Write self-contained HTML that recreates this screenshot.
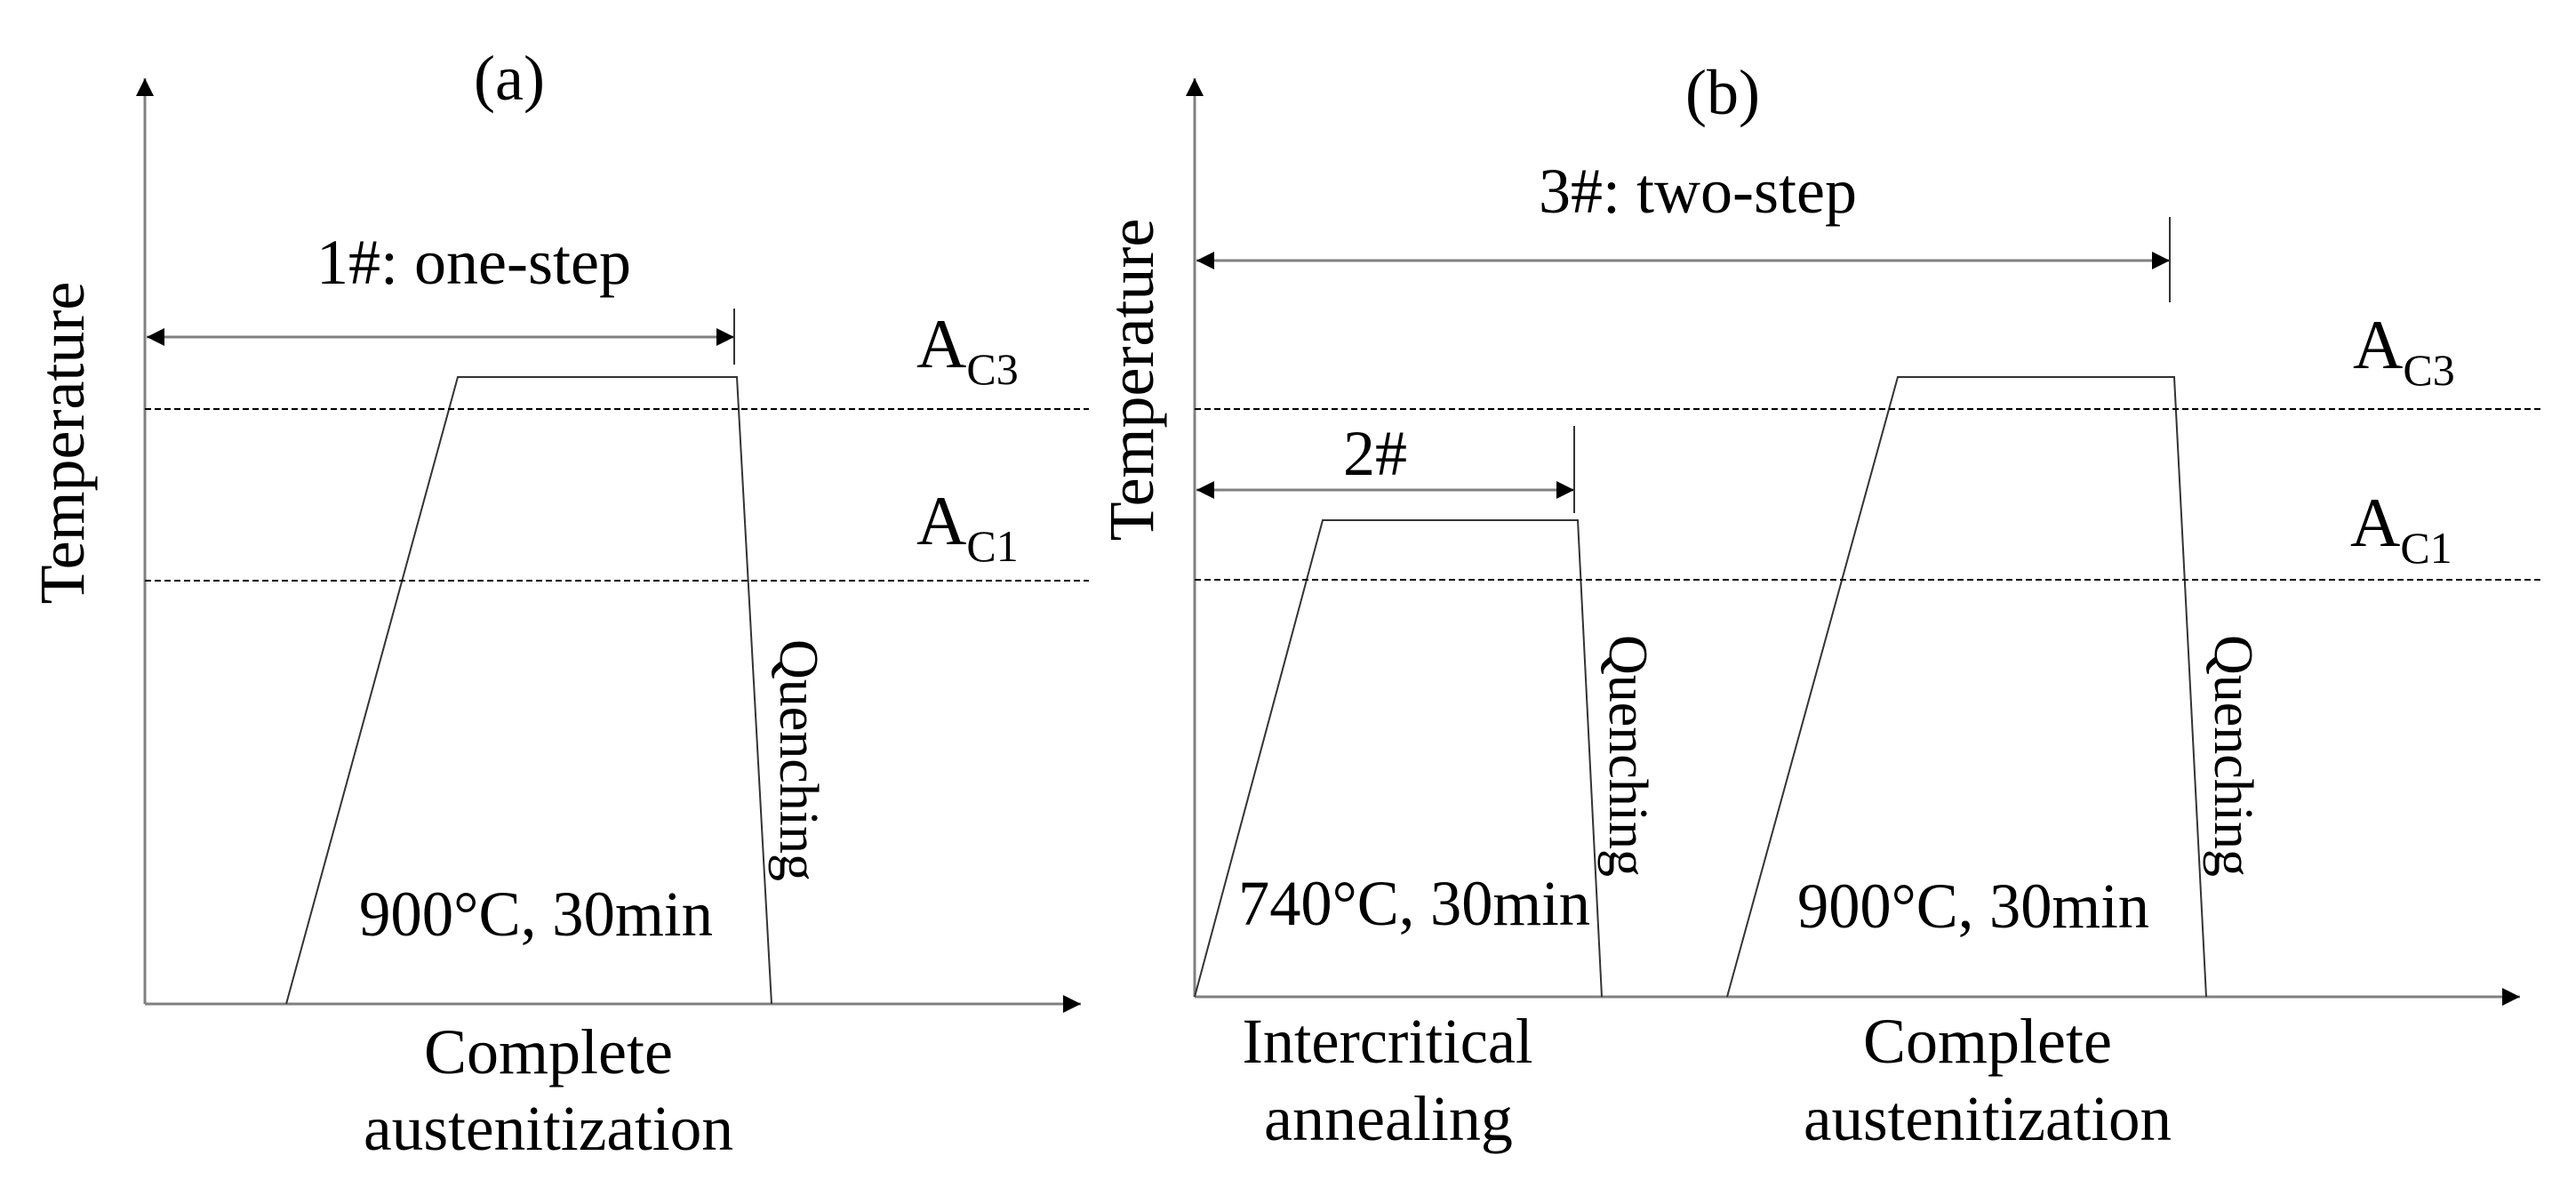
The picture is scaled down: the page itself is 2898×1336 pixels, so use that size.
<!DOCTYPE html>
<html><head><meta charset="utf-8"><style>
html,body{margin:0;padding:0;background:#fff;}
svg{display:block;}
text{font-family:"Liberation Serif",serif;fill:#000;}
</style></head><body>
<svg width="2898" height="1336" viewBox="0 0 2898 1336" xmlns="http://www.w3.org/2000/svg">
<defs>
<marker id="ah" viewBox="0 0 10 10" refX="10" refY="5" markerWidth="20" markerHeight="20" markerUnits="userSpaceOnUse" orient="auto-start-reverse"><path d="M0,0 L10,5 L0,10 z" fill="#000"/></marker>
</defs>
<g stroke="#808080" stroke-width="3" fill="none">
<line x1="163" y1="1129" x2="163" y2="88" marker-end="url(#ah)"/>
<line x1="163" y1="1129" x2="1216" y2="1129" marker-end="url(#ah)"/>
<line x1="1344" y1="1121" x2="1344" y2="88" marker-end="url(#ah)"/>
<line x1="1344" y1="1121" x2="2835" y2="1121" marker-end="url(#ah)"/>
<line x1="165" y1="379" x2="826" y2="379" marker-start="url(#ah)" marker-end="url(#ah)"/>
<line x1="1346" y1="293" x2="2441" y2="293" marker-start="url(#ah)" marker-end="url(#ah)"/>
<line x1="1346" y1="551" x2="1771" y2="551" marker-start="url(#ah)" marker-end="url(#ah)"/>
</g>
<g stroke="#333" stroke-width="2" fill="none">
<line x1="826" y1="347" x2="826" y2="410"/>
<line x1="2441" y1="244" x2="2441" y2="340"/>
<line x1="1771" y1="479" x2="1771" y2="577"/>
<polyline points="322,1129 515,424 829,424 868,1129"/>
<polyline points="1344,1121 1488,585 1775,585 1802,1121"/>
<polyline points="1943,1121 2135,424 2446,424 2482,1121"/>
</g>
<g stroke="#000" stroke-width="2" stroke-dasharray="7,4">
<line x1="163" y1="460" x2="1225" y2="460"/>
<line x1="163" y1="653" x2="1225" y2="653"/>
<line x1="1344" y1="460" x2="2860" y2="460"/>
<line x1="1344" y1="652" x2="2860" y2="652"/>
</g>
<g font-size="72" text-anchor="middle">
<text x="573" y="112">(a)</text>
<text x="1938" y="128">(b)</text>
<text x="533" y="319">1#: one-step</text>
<text x="1910" y="239">3#: two-step</text>
<text x="1547" y="534">2#</text>
<text x="603" y="1052" textLength="398" lengthAdjust="spacingAndGlyphs">900°C, 30min</text>
<text x="1591" y="1040" textLength="396" lengthAdjust="spacingAndGlyphs">740°C, 30min</text>
<text x="2220" y="1043" textLength="396" lengthAdjust="spacingAndGlyphs">900°C, 30min</text>
<text x="617" y="1207">Complete</text>
<text x="617" y="1293" textLength="416" lengthAdjust="spacingAndGlyphs">austenitization</text>
<text x="1561" y="1195" textLength="327" lengthAdjust="spacingAndGlyphs">Intercritical</text>
<text x="1562" y="1282">annealing</text>
<text x="2236" y="1195">Complete</text>
<text x="2236" y="1282" textLength="414" lengthAdjust="spacingAndGlyphs">austenitization</text>
<text transform="translate(94,498) rotate(-90)">Temperature</text>
<text transform="translate(1297,427) rotate(-90)">Temperature</text>
</g>
<g font-size="78">
<text x="1031" y="413">A<tspan font-size="50" dy="19">C3</tspan></text>
<text x="1031" y="612">A<tspan font-size="50" dy="19">C1</tspan></text>
<text x="2647" y="414">A<tspan font-size="50" dy="19">C3</tspan></text>
<text x="2644" y="614">A<tspan font-size="50" dy="19">C1</tspan></text>
</g>
<g font-size="62" text-anchor="middle">
<text transform="translate(878,855) rotate(90)">Quenching</text>
<text transform="translate(1811,850) rotate(90)">Quenching</text>
<text transform="translate(2492,850) rotate(90)">Quenching</text>
</g>
</svg>
</body></html>
